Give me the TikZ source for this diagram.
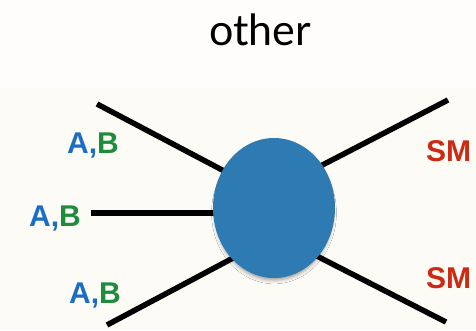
\documentclass[tikz,border=0pt]{standalone}
\usepackage{fontspec}
\setmainfont{Liberation Sans}
\newfontfamily\titlefont{Lato}
\usetikzlibrary{shapes.geometric,shadows.blur}
\definecolor{paper}{HTML}{FDFBF6}
\definecolor{paperlight}{HTML}{FEFDFB}
\definecolor{blobblue}{HTML}{2E7AB2}
\definecolor{labelblue}{HTML}{1A6CC4}
\definecolor{labelgreen}{HTML}{1E8C3C}
\definecolor{labelred}{HTML}{CC2A12}
\tikzset{
  leg/.style={line width=5.5pt, black},
  lbl/.style={inner sep=0pt, anchor=base west, font=\fontsize{30}{30}\selectfont\bfseries},
  blob/.style={ellipse, fill=blobblue, minimum width=122pt, minimum height=140pt, inner sep=0pt,
    blur shadow={shadow xshift=0pt, shadow yshift=-5pt, shadow scale=0.96,
      shadow blur radius=4pt, shadow opacity=40}},
}
\newcommand{\ab}{\textcolor{labelblue}{A,}\textcolor{labelgreen}{B}}
\begin{document}
\begin{tikzpicture}[x=1pt,y=-1pt]
  \fill[paper] (0,0) rectangle (476,330);
  \fill[paperlight] (0,0) rectangle (476,88);
  \useasboundingbox (0,0) rectangle (476,330);

  \node[inner sep=0pt, anchor=base, font=\titlefont\fontsize{43}{43}\selectfont] (title) at (260,45) {other};

  % outer ends of the legs and their ends hidden under the blob
  \coordinate (l1) at (97,104);
  \coordinate (l1in) at (245,182);
  \coordinate (l2) at (91,213);
  \coordinate (l2in) at (245,213);
  \coordinate (l3) at (107,325);
  \coordinate (l3in) at (250,249);
  \coordinate (r1) at (448,100);
  \coordinate (r1in) at (305,174);
  \coordinate (r2) at (446,322);
  \coordinate (r2in) at (305,250);
  \draw[leg] (l1) -- (l1in);
  \draw[leg] (l2) -- (l2in);
  \draw[leg] (l3) -- (l3in);
  \draw[leg] (r1) -- (r1in);
  \draw[leg] (r2) -- (r2in);

  \node[blob] (blob) at (274,208) {};

  \node[lbl] (ab1) at (67,153) {\ab};
  \node[lbl] (ab2) at (29,226) {\ab};
  \node[lbl] (ab3) at (69,303) {\ab};
  \node[lbl, text=labelred] (sm1) at (426,161) {SM};
  \node[lbl, text=labelred] (sm2) at (426,288) {SM};
\end{tikzpicture}
\end{document}
